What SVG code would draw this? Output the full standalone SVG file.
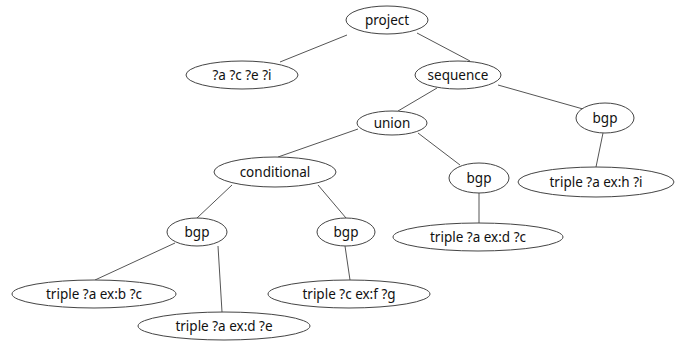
<svg xmlns="http://www.w3.org/2000/svg" width="685" height="342" viewBox="0 0 685 342">
<style>
ellipse{fill:#fff;stroke:#444;stroke-width:1}
line{stroke:#555;stroke-width:1}
text{font-family:"Noto Sans","Open Sans","DejaVu Sans",sans-serif;font-size:13.5px;fill:#111;text-anchor:middle;dominant-baseline:central}
</style>
<rect width="685" height="342" fill="#fff"/>
<g id="connectors">
<line x1="347" y1="35" x2="280" y2="62"/>
<line x1="417" y1="33" x2="470" y2="61"/>
<line x1="437" y1="88" x2="398" y2="111"/>
<line x1="498" y1="85" x2="583" y2="109"/>
<line x1="603" y1="133" x2="596" y2="167"/>
<line x1="358" y1="129" x2="278" y2="157"/>
<line x1="418" y1="133" x2="460" y2="165"/>
<line x1="479" y1="193" x2="479" y2="223"/>
<line x1="232" y1="185" x2="197" y2="218"/>
<line x1="318" y1="185" x2="346" y2="218"/>
<line x1="175" y1="243" x2="95" y2="280"/>
<line x1="218" y1="246" x2="222" y2="312"/>
<line x1="345" y1="246" x2="350" y2="280"/>
</g>
<g id="project"><ellipse cx="387" cy="20" rx="41" ry="14"/><text x="387" y="20">project</text></g>
<g id="vars"><ellipse cx="242" cy="75" rx="56" ry="14"/><text x="242" y="75">?a ?c ?e ?i</text></g>
<g id="sequence"><ellipse cx="458" cy="75" rx="43" ry="14"/><text x="458" y="75">sequence</text></g>
<g id="union"><ellipse cx="392" cy="123" rx="35" ry="12"/><text x="392" y="123">union</text></g>
<g id="bgp_right"><ellipse cx="605" cy="118" rx="29" ry="15"/><text x="605" y="118">bgp</text></g>
<g id="triple_h"><ellipse cx="596" cy="182" rx="78" ry="15"/><text x="596" y="182">triple ?a ex:h ?i</text></g>
<g id="conditional"><ellipse cx="275" cy="172" rx="61" ry="15"/><text x="275" y="172">conditional</text></g>
<g id="bgp_mid"><ellipse cx="479" cy="178" rx="30" ry="15"/><text x="479" y="178">bgp</text></g>
<g id="triple_dc"><ellipse cx="478" cy="237" rx="85" ry="14"/><text x="478" y="237">triple ?a ex:d ?c</text></g>
<g id="bgp_left"><ellipse cx="197" cy="232" rx="30" ry="14"/><text x="197" y="232">bgp</text></g>
<g id="bgp_center"><ellipse cx="346" cy="232" rx="29" ry="14"/><text x="346" y="232">bgp</text></g>
<g id="triple_b"><ellipse cx="94" cy="294" rx="82" ry="14"/><text x="94" y="294">triple ?a ex:b ?c</text></g>
<g id="triple_f"><ellipse cx="349" cy="294" rx="81" ry="14"/><text x="349" y="294">triple ?c ex:f ?g</text></g>
<g id="triple_de"><ellipse cx="224" cy="326" rx="86" ry="14"/><text x="224" y="326">triple ?a ex:d ?e</text></g>
</svg>
